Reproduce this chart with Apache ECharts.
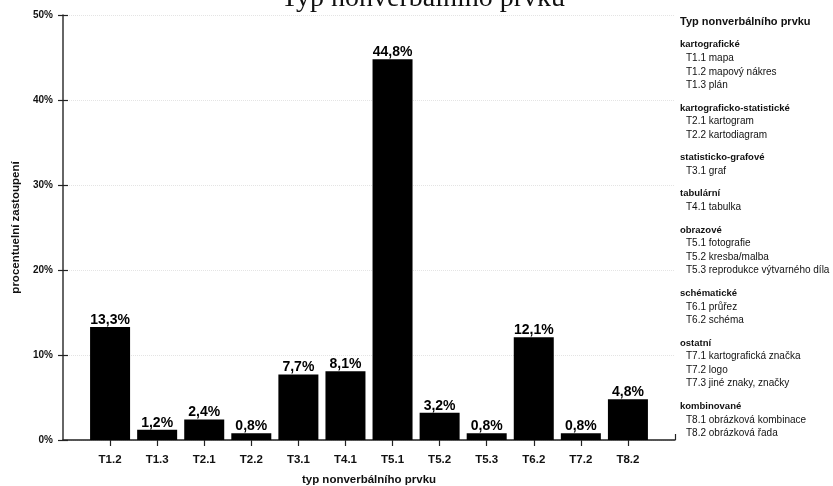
<!DOCTYPE html>
<html>
<head>
<meta charset="utf-8">
<script src="https://cdn.jsdelivr.net/npm/echarts@6/dist/echarts.min.js"></script>
<style>
html,body{margin:0;padding:0;background:#fff;}
#chart{width:833px;height:486px;}
</style>
</head>
<body>
<div id="chart"></div>
<script>
// ---- data ----
const categories = ['T1.2','T1.3','T2.1','T2.2','T3.1','T4.1','T5.1','T5.2','T5.3','T6.2','T7.2','T8.2'];
const values = [13.3, 1.2, 2.4, 0.8, 7.7, 8.1, 44.8, 3.2, 0.8, 12.1, 0.8, 4.8];
const yTicks = [0, 10, 20, 30, 40, 50];
const chartTitle = 'Typ nonverbálního prvku';
const xAxisName = 'typ nonverbálního prvku';
const yAxisName = 'procentuelní zastoupení';
const legendTitle = 'Typ nonverbálního prvku';
const legendHeaders = ['kartografické','kartograficko-statistické','statisticko-grafové','tabulární','obrazové','schématické','ostatní','kombinované'];
const legendItems = [
  ['T1.1 mapa','T1.2 mapový nákres','T1.3 plán'],
  ['T2.1 kartogram','T2.2 kartodiagram'],
  ['T3.1 graf'],
  ['T4.1 tabulka'],
  ['T5.1 fotografie','T5.2 kresba/malba','T5.3 reprodukce výtvarného díla'],
  ['T6.1 průřez','T6.2 schéma'],
  ['T7.1 kartografická značka','T7.2 logo','T7.3 jiné znaky, značky'],
  ['T8.1 obrázková kombinace','T8.2 obrázková řada']
];

// padded category axis (half slot on each side)
const xCats = [''].concat(categories, ['']);
const barData = [null].concat(values, [null]);

// legend rich text
const lines = ['{t|' + legendTitle + '}'];
legendHeaders.forEach((h, i) => {
  lines.push('{g| }');
  lines.push('{h|' + h + '}');
  legendItems[i].forEach(it => lines.push('{i|' + it + '}'));
});

const FONT = 'Liberation Sans, Arial, sans-serif';
const chart = echarts.init(document.getElementById('chart'));
const yMin = yTicks[0], yMax = yTicks[yTicks.length - 1], yInt = yTicks[1] - yTicks[0];

chart.setOption({
  animation: false,
  backgroundColor: '#fff',
  grid: {left: 63, right: 158, top: 15, bottom: 46, containLabel: false, outerBoundsMode: 'none'},
  xAxis: [{
    type: 'category',
    position: 'bottom',
    data: xCats,
    boundaryGap: false,
    axisLine: {lineStyle: {color: '#222', width: 1.5}},
    axisTick: {show: true, length: 6, lineStyle: {color: '#222', width: 1.2},
      interval: (idx) => idx > 0 && idx < xCats.length - 1},
    axisLabel: {margin: 14, color: '#111', fontFamily: FONT, fontWeight: 'bold', fontSize: 11.5,
      interval: 0},
    name: xAxisName,
    nameLocation: 'middle',
    nameGap: 34,
    nameTextStyle: {color: '#111', fontFamily: FONT, fontWeight: 'bold', fontSize: 11.5},
    splitLine: {show: false}
  }, {
    type: 'category',
    position: 'bottom',
    data: xCats,
    boundaryGap: false,
    axisLine: {show: false},
    axisTick: {show: true, inside: true, length: 6, lineStyle: {color: '#222', width: 1.2},
      interval: (idx) => idx === xCats.length - 1},
    axisLabel: {show: false},
    splitLine: {show: false}
  }],
  yAxis: [{
    type: 'value',
    position: 'left',
    min: yMin, max: yMax, interval: yInt,
    axisLine: {show: true, lineStyle: {color: '#333', width: 1.5}},
    axisTick: {show: true, length: 5, lineStyle: {color: '#222', width: 1.2}},
    axisLabel: {margin: 10, color: '#111', fontFamily: FONT, fontWeight: 'bold', fontSize: 10,
      formatter: (v) => v + '%'},
    splitLine: {show: true, lineStyle: {color: '#e4e4e4', type: 'dotted', width: 1}},
    name: yAxisName,
    nameLocation: 'middle',
    nameGap: 40,
    nameTextStyle: {color: '#111', fontFamily: FONT, fontWeight: 'bold', fontSize: 11.5}
  }, {
    type: 'value',
    position: 'left',
    min: yMin, max: yMax, interval: yInt,
    axisLine: {show: false},
    axisTick: {show: true, inside: true, length: 5, lineStyle: {color: '#222', width: 1.2}},
    axisLabel: {show: false},
    splitLine: {show: false}
  }],
  series: [{
    type: 'bar',
    data: barData,
    barWidth: 40,
    itemStyle: {color: '#000'},
    label: {
      show: true, position: 'top', distance: 0,
      color: '#000', fontFamily: FONT, fontWeight: 'bold', fontSize: 14,
      formatter: (p) => p.value == null ? '' : String(p.value).replace('.', ',') + '%'
    }
  }],
  graphic: [{
    type: 'text',
    x: 423, y: -15,
    style: {
      text: chartTitle,
      font: '28px "Liberation Serif", "Times New Roman", serif',
      fill: '#111',
      align: 'center',
      verticalAlign: 'top'
    }
  }, {
    type: 'text',
    x: 680, y: 15,
    style: {
      text: lines.join('\n'),
      fill: '#111',
      verticalAlign: 'top',
      rich: {
        t: {fontFamily: FONT, fontWeight: 'bold', fontSize: 11, lineHeight: 14, color: '#111'},
        g: {fontSize: 6, lineHeight: 8.9},
        h: {fontFamily: FONT, fontWeight: 'bold', fontSize: 9.5, lineHeight: 13.6, color: '#111'},
        i: {fontFamily: FONT, fontSize: 10, lineHeight: 13.6, color: '#222', padding: [0, 0, 0, 6]}
      }
    }
  }]
});
</script>
</body>
</html>
